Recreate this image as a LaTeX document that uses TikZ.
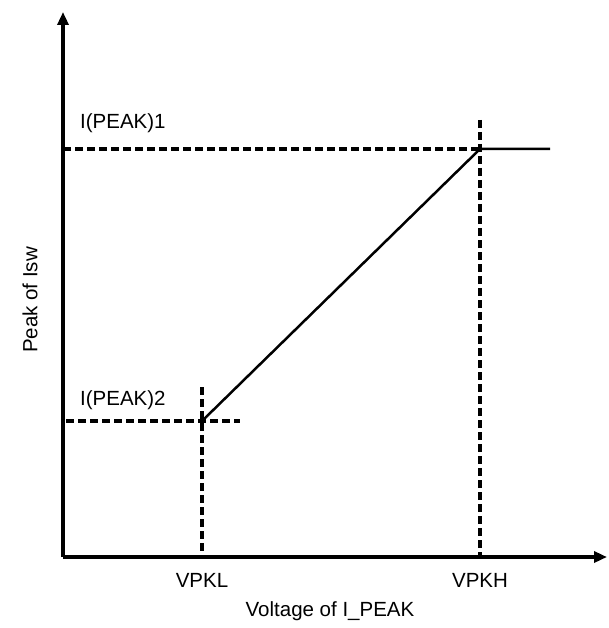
\documentclass[tikz,border=0pt]{standalone}
\usepackage{fontspec}
\setmainfont{Liberation Sans}
\usetikzlibrary{arrows.meta,positioning}

\begin{document}
\begin{tikzpicture}[x=1pt,y=-1pt,
  axis/.style={line width=4.5pt,-{Triangle[length=13pt,width=11pt]}},
  guide/.style={line width=4.5pt,dash pattern=on 8pt off 4pt},
  curve/.style={line width=2.5pt},
  lbl/.style={font=\fontsize{20.5}{24}\selectfont,inner sep=0pt}]
\useasboundingbox (0,0) rectangle (608,628);
\pgfmathsetmacro{\xlow}{202}
\pgfmathsetmacro{\xhigh}{480}
\pgfmathsetmacro{\ypkone}{149}
\pgfmathsetmacro{\ypktwo}{421}
\coordinate (O) at (63,557);
\coordinate (ytip) at (63,12);
\coordinate (xtip) at (607,557);
\coordinate (P1) at (\xhigh,\ypkone);
\coordinate (P2) at (\xlow,\ypktwo);
\coordinate (P1y) at (63,\ypkone);
\coordinate (P1top) at (\xhigh,120);
\coordinate (P1bot) at (\xhigh,557);
\coordinate (P2y) at (66,\ypktwo);
\coordinate (P2right) at (240,\ypktwo);
\coordinate (P2top) at (\xlow,387);
\coordinate (P2bot) at (\xlow,557);
\coordinate (flat) at (550,\ypkone);
% axes
\draw[axis] (O) -- (ytip);
\draw[axis] (O) -- (xtip);
% guide lines
\draw[guide] (P1y) -- (P1);
\draw[guide] (P1top) -- (P1bot);
\draw[guide] (P2y) -- (P2right);
\draw[guide] (P2top) -- (P2bot);
% characteristic
\draw[curve] (P2) -- (P1) -- (flat);
% labels
\node[lbl,anchor=west] (ipk1) at (80,123) {I(PEAK)1};
\node[lbl,anchor=west] (ipk2) at (80,400) {I(PEAK)2};
\node[lbl] (vpkl) at (\xlow,580) {VPKL};
\node[lbl] (vpkh) at (\xhigh,580) {VPKH};
\node[lbl] (xlabel) at (330,611) {Voltage of I\_PEAK};
\node[lbl,rotate=90] (ylabel) at (30,300) {Peak of Isw};
\end{tikzpicture}
\end{document}
